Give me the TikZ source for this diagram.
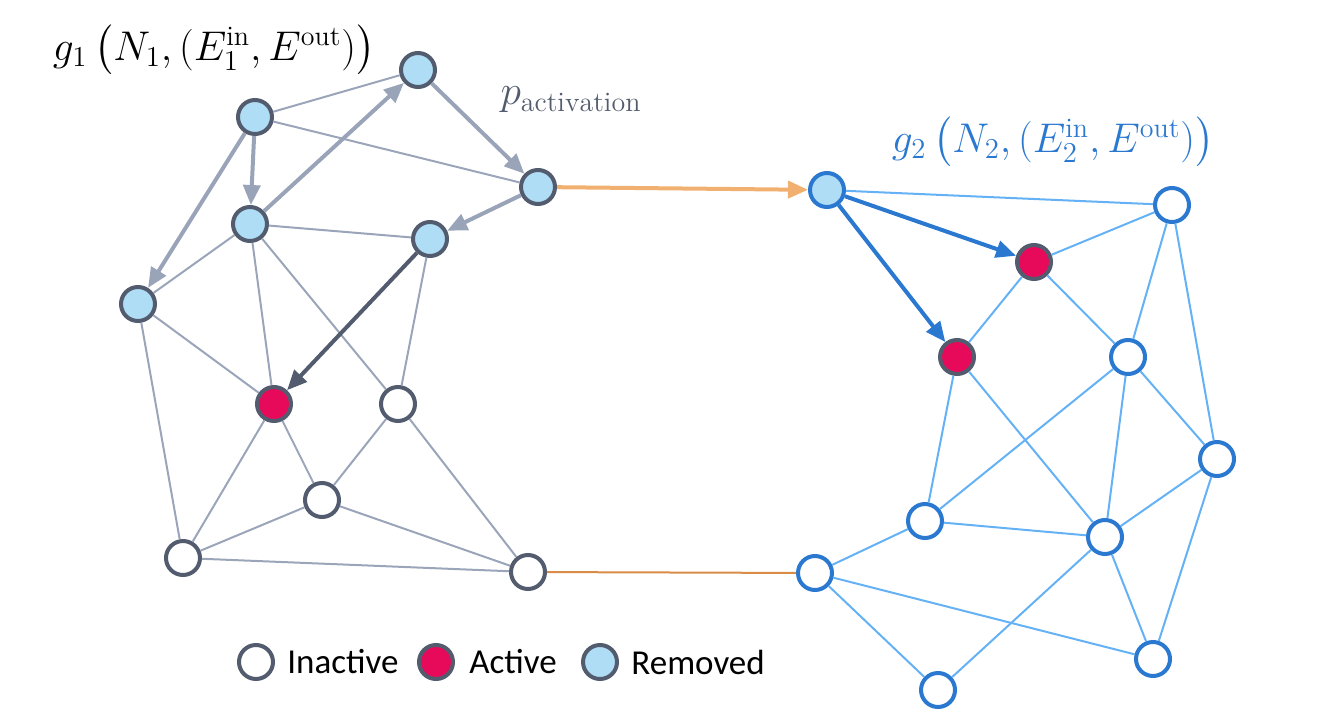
\documentclass[tikz,border=0pt]{standalone}
\usepackage{amsmath}
\usepackage{fontspec}
\newfontfamily\legendfont{Carlito}
\usetikzlibrary{arrows.meta}
\definecolor{slate}{HTML}{525C6E}
\definecolor{edgegray}{HTML}{9BA5B9}
\definecolor{arrowgray}{HTML}{9AA4B8}
\definecolor{actpink}{HTML}{E80A5A}
\definecolor{remblue}{HTML}{AEDDF5}
\definecolor{nodeblue}{HTML}{2A78D0}
\definecolor{edgeblue}{HTML}{64B2F5}
\definecolor{lightorange}{HTML}{F2B070}
\definecolor{darkorange}{HTML}{D98B48}

\begin{document}
\begin{tikzpicture}[x=0.5pt,y=-0.5pt,
  vert/.style={circle, line width=2pt, minimum size=17pt, inner sep=0pt, draw=slate, fill=white},
  act/.style={vert, fill=actpink},
  rem/.style={vert, fill=remblue},
  bvert/.style={vert, draw=nodeblue},
  brem/.style={vert, draw=nodeblue, fill=remblue},
  edg/.style={line width=1pt, edgegray},
  bedg/.style={line width=1pt, edgeblue},
  spread/.style={line width=2pt, -{Triangle[length=10pt,width=8.5pt]}},
  mathlbl/.style={inner sep=0pt, font=\fontsize{20}{24}\selectfont},
  lgd/.style={anchor=west, inner sep=0pt, font=\legendfont\fontsize{17.5}{20}\selectfont}]
\useasboundingbox (0,0) rectangle (1332,722);

% first graph g1
\node[rem] (a) at (418,70) {};
\node[rem] (b) at (255,117) {};
\node[rem] (c) at (538,187) {};
\node[rem] (d) at (250,224) {};
\node[rem] (e) at (430,239) {};
\node[rem] (f) at (138,304) {};
\node[act] (g) at (274,404) {};
\node[vert] (h) at (398,404) {};
\node[vert] (i) at (322,500) {};
\node[vert] (j) at (183,558) {};
\node[vert] (k) at (528,572) {};

\foreach \u/\v in {b/a,b/c,d/e,d/f,d/g,d/h,e/h,f/g,f/j,g/j,g/i,h/i,h/k,i/j,i/k,j/k}
  \draw[edg] (\u) -- (\v);

\draw[spread, arrowgray] (b) -- (d);
\draw[spread, arrowgray] (b) -- (f);
\draw[spread, arrowgray] (d) -- (a);
\draw[spread, arrowgray] (a) -- (c);
\draw[spread, arrowgray] (c) -- (e);
\draw[spread, slate] (e) -- (g);

% second graph g2
\node[brem] (r1) at (827,190) {};
\node[bvert] (r2) at (1172,205) {};
\node[act] (r3) at (1034,262) {};
\node[act] (r4) at (957,357) {};
\node[bvert] (r5) at (1128,357) {};
\node[bvert] (r6) at (1217,459) {};
\node[bvert] (r7) at (925,521) {};
\node[bvert] (r8) at (1105,537) {};
\node[bvert] (r9) at (815,573) {};
\node[bvert] (r10) at (1153,659) {};
\node[bvert] (r11) at (938,690) {};

\foreach \u/\v in {r1/r2,r3/r2,r3/r4,r3/r5,r2/r5,r2/r6,r5/r6,r5/r7,r5/r8,r4/r7,r4/r8,
  r6/r8,r6/r10,r7/r8,r7/r9,r8/r10,r8/r11,r9/r10,r9/r11}
  \draw[bedg] (\u) -- (\v);

\draw[spread, nodeblue] (r1) -- (r3);
\draw[spread, nodeblue] (r1) -- (r4);

% links between the graphs
\draw[spread, lightorange] (c) -- (r1);
\draw[line width=1pt, darkorange] (k) -- (r9);

% labels
\node[mathlbl] (lbl1) at (214,50) {$g_1\,\bigl(N_1,(E_1^{\mathrm{in}},E^{\mathrm{out}})\bigr)$};
\node[mathlbl, slate] (lbl2) at (571,100) {$p_{\mathrm{activation}}$};
\node[mathlbl, nodeblue] (lbl3) at (1053,142) {$g_2\,\bigl(N_2,(E_2^{\mathrm{in}},E^{\mathrm{out}})\bigr)$};

% legend
\node[vert] (k1) at (256,662) {};
\node[lgd] (t1) at (287,662) {Inactive};
\node[act] (k2) at (436,662) {};
\node[lgd] (t2) at (469,662) {Active};
\node[rem] (k3) at (600,662) {};
\node[lgd] (t3) at (631,662) {Removed};
\end{tikzpicture}
\end{document}
